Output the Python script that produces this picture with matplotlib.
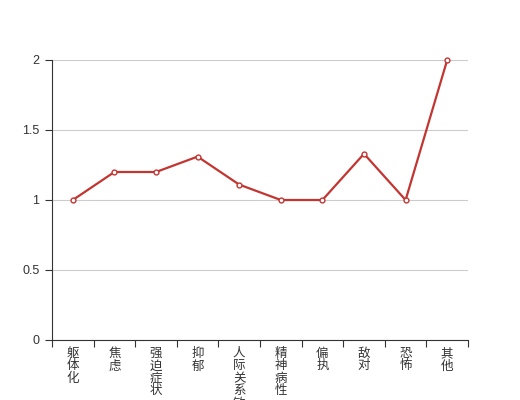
import matplotlib
matplotlib.use("Agg")
import matplotlib.pyplot as plt
import numpy as np

plt.rcParams['font.family'] = ['Noto Sans CJK SC', 'DejaVu Sans']

categories = ["躯体化", "焦虑", "强迫症状", "抑郁", "人际关系敏感", "精神病性", "偏执", "敌对", "恐怖", "其他"]
values = [1, 1.2, 1.2, 1.31, 1.11, 1, 1, 1.33, 1, 2]
yticks = [0, 0.5, 1, 1.5, 2]
ytick_labels = ["0", "0.5", "1", "1.5", "2"]

fig = plt.figure(figsize=(5.2, 4.0), dpi=100)
ax = fig.add_axes([0.1, 0.15, 0.8, 0.7])

x = np.arange(len(categories))
ax.plot(x, values, color="#c23531", lw=1.6, marker="o", markersize=3.5,
        markerfacecolor="white", markeredgecolor="#c23531", markeredgewidth=1.0,
        zorder=3, clip_on=False)

ax.set_xlim(-0.5, len(categories) - 0.5)
ax.set_ylim(0, 2)
ax.set_yticks(yticks)
ax.set_yticklabels(ytick_labels, family=['Liberation Sans', 'DejaVu Sans'])
ax.yaxis.grid(True, color="#cccccc", lw=0.8)
ax.set_axisbelow(True)

ax.set_xticks(np.arange(len(categories) + 1) - 0.5)
ax.set_xticklabels([])
ax.set_xticks(x, minor=True)
ax.set_xticklabels(["\n".join(c) for c in categories], minor=True, linespacing=0.95)
ax.tick_params(axis="x", which="major", length=5, width=0.8, color="#333333", direction="out")
ax.tick_params(axis="x", which="minor", length=0, pad=5, labelsize=9, labelcolor="#333333")
ax.tick_params(axis="y", length=5, width=0.8, color="#333333", labelsize=9, labelcolor="#333333", pad=4)
for lbl in ax.get_xticklabels(minor=True):
    lbl.set_verticalalignment("top")

for s in ["top", "right"]:
    ax.spines[s].set_visible(False)
for s in ["left", "bottom"]:
    ax.spines[s].set_color("#333333")
    ax.spines[s].set_linewidth(0.8)

fig.savefig("out.png", dpi=100)
